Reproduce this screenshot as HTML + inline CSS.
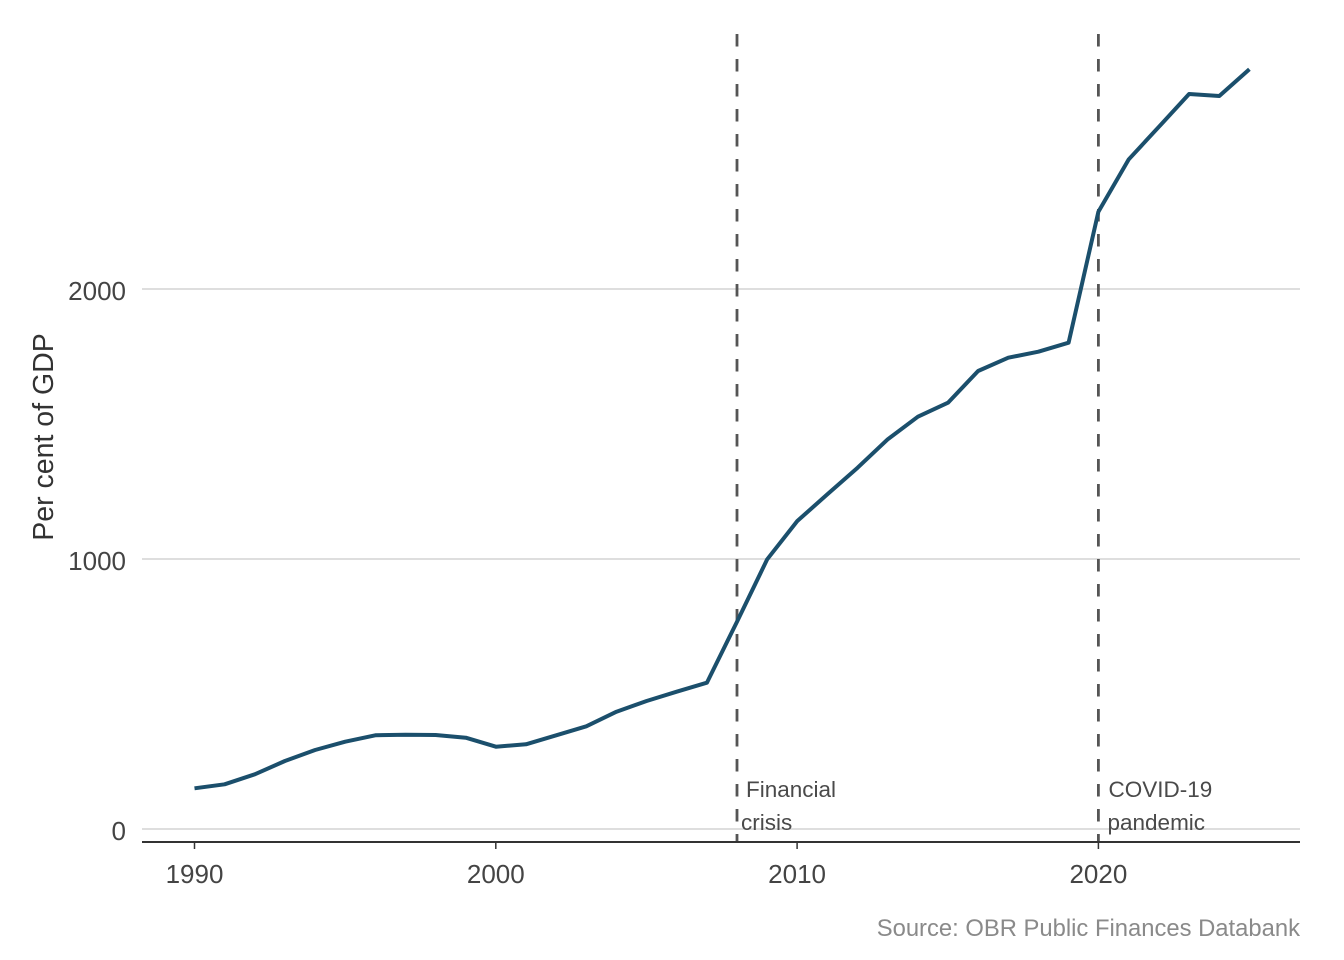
<!DOCTYPE html>
<html><head><meta charset="utf-8"><style>
html,body{margin:0;padding:0;background:#fff;}
svg{display:block;}
text{font-family:"Liberation Sans","DejaVu Sans",sans-serif;}
</style></head><body>
<svg width="1344" height="960" viewBox="0 0 1344 960" xmlns="http://www.w3.org/2000/svg">
<rect width="1344" height="960" fill="#fff"/>
<!-- gridlines -->
<g stroke="#d4d4d4" stroke-width="1.5">
<line x1="142" y1="829" x2="1300" y2="829"/>
<line x1="142" y1="559" x2="1300" y2="559"/>
<line x1="142" y1="289" x2="1300" y2="289"/>
</g>
<!-- y tick labels -->
<g font-size="26" fill="#444" text-anchor="end">
<text x="126" y="840">0</text>
<text x="126" y="570">1000</text>
<text x="126" y="300">2000</text>
</g>
<!-- y title -->
<text transform="translate(53,437) rotate(-90)" text-anchor="middle" font-size="28.5" fill="#333">Per cent of GDP</text>
<!-- dashed event lines -->
<g stroke="#555" stroke-width="2.8" stroke-dasharray="12.5 12.5">
<line x1="737" y1="34" x2="737" y2="842"/>
<line x1="1098.4" y1="34" x2="1098.4" y2="842"/>
</g>
<!-- series -->
<polyline fill="none" stroke="#1b4f6c" stroke-width="4" stroke-linejoin="round" stroke-linecap="butt" points="
194.5,788.3 224.6,784.3 254.8,774.3 284.9,761 315.1,750 345.2,741.7 375.3,735.3 405.5,734.7 435.6,735 465.8,737.7
495.9,746.7 526,744.3 556.2,735.3 586.3,726.3 616.5,711.7 646.6,701 676.7,691.7 706.9,682.7 737,621.7 767.2,559.3
797.3,521 827.4,494.3 857.6,467.7 887.7,439.3 917.9,416.7 948,402.7 978.1,371 1008.3,357.7 1038.4,351.7 1068.6,342.7
1098.4,211.7 1128.8,159.3 1159,126.7 1189.1,94 1219.3,96 1249.4,69.3"/>
<!-- annotations -->
<g font-size="22.5" fill="#4a4a4a">
<text x="746" y="797">Financial</text>
<text x="741" y="830">crisis</text>
<text x="1108.5" y="797">COVID-19</text>
<text x="1107.5" y="830">pandemic</text>
</g>
<!-- x axis -->
<line x1="142" y1="842" x2="1300" y2="842" stroke="#333" stroke-width="2"/>
<g stroke="#333" stroke-width="1.5">
<line x1="194.5" y1="842" x2="194.5" y2="849"/>
<line x1="495.8" y1="842" x2="495.8" y2="849"/>
<line x1="797.1" y1="842" x2="797.1" y2="849"/>
<line x1="1098.4" y1="842" x2="1098.4" y2="849"/>
</g>
<g font-size="26" fill="#444" text-anchor="middle">
<text x="194.5" y="883">1990</text>
<text x="495.8" y="883">2000</text>
<text x="797.1" y="883">2010</text>
<text x="1098.4" y="883">2020</text>
</g>
<!-- source -->
<text x="1300" y="936" text-anchor="end" font-size="23.8" fill="#8a8a8a">Source: OBR Public Finances Databank</text>
</svg>
</body></html>
